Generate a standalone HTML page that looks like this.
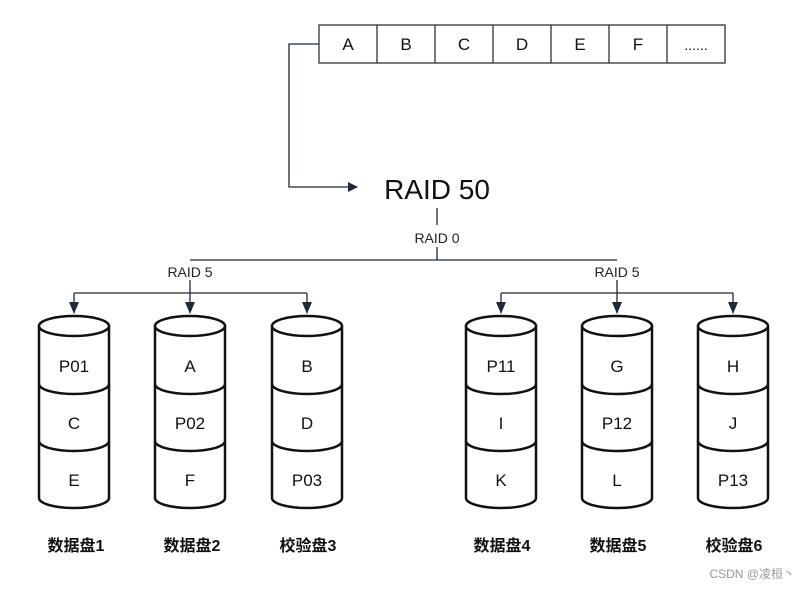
<!DOCTYPE html>
<html><head><meta charset="utf-8"><style>body{margin:0;background:#fff}</style></head><body>
<svg width="808" height="589" xmlns="http://www.w3.org/2000/svg" font-family="Liberation Sans, Noto Sans CJK SC, sans-serif">
<defs><marker id="a" markerWidth="10" markerHeight="10" refX="9" refY="5" orient="auto" markerUnits="userSpaceOnUse"><path d="M0,0 L10,5 L0,10 z" fill="#1f2a36"/></marker>
<marker id="d" markerWidth="10" markerHeight="12" refX="5" refY="11" orient="0" markerUnits="userSpaceOnUse"><path d="M0,0 L10,0 L5,12 z" fill="#1f2a36"/></marker></defs>
<g stroke="#333" stroke-width="1.3" fill="#fff">
<rect x="319" y="25" width="406" height="38"/>
<line x1="377" y1="25" x2="377" y2="63"/><line x1="435" y1="25" x2="435" y2="63"/><line x1="493" y1="25" x2="493" y2="63"/><line x1="551" y1="25" x2="551" y2="63"/><line x1="609" y1="25" x2="609" y2="63"/><line x1="667" y1="25" x2="667" y2="63"/>
</g>
<g font-size="17" text-anchor="middle" fill="#111">
<text x="348" y="50">A</text><text x="406" y="50">B</text><text x="464" y="50">C</text><text x="522" y="50">D</text><text x="580" y="50">E</text><text x="638" y="50">F</text><text x="696" y="50" font-size="14">......</text>
</g>
<g fill="none" stroke="#1f2a36" stroke-width="1.3">
<polyline points="319,44 289,44 289,187 357,187" marker-end="url(#a)"/>
<line x1="437" y1="208" x2="437" y2="225"/>
<line x1="437" y1="247" x2="437" y2="260"/>
<line x1="190" y1="260" x2="617" y2="260"/>
<line x1="190" y1="280" x2="190" y2="293"/><line x1="617" y1="280" x2="617" y2="293"/>
<line x1="74" y1="293" x2="307" y2="293"/><line x1="501" y1="293" x2="733" y2="293"/>
<line x1="74" y1="293" x2="74" y2="313" marker-end="url(#d)"/>
<line x1="190" y1="293" x2="190" y2="313" marker-end="url(#d)"/>
<line x1="307" y1="293" x2="307" y2="313" marker-end="url(#d)"/>
<line x1="501" y1="293" x2="501" y2="313" marker-end="url(#d)"/>
<line x1="617" y1="293" x2="617" y2="313" marker-end="url(#d)"/>
<line x1="733" y1="293" x2="733" y2="313" marker-end="url(#d)"/>
</g>
<text x="437" y="199" font-size="28" text-anchor="middle" fill="#111">RAID 50</text>
<text x="437" y="243" font-size="14" text-anchor="middle" fill="#222">RAID 0</text>
<text x="190" y="277" font-size="14" text-anchor="middle" fill="#222">RAID 5</text>
<text x="617" y="277" font-size="14" text-anchor="middle" fill="#222">RAID 5</text>
<g id="cyls" stroke="#111" stroke-width="2.5" fill="#fff">
</g>
<g font-size="17" text-anchor="middle" fill="#111">
<!-- cylinders -->
<g stroke="#111" stroke-width="2.5" fill="#fff">
<path d="M39,326 L39,498 A35,10 0 0 0 109,498 L109,326"/><ellipse cx="74" cy="326" rx="35" ry="10"/><path d="M39,384 A35,10 0 0 0 109,384 M39,441 A35,10 0 0 0 109,441" fill="none"/>
<path d="M155,326 L155,498 A35,10 0 0 0 225,498 L225,326"/><ellipse cx="190" cy="326" rx="35" ry="10"/><path d="M155,384 A35,10 0 0 0 225,384 M155,441 A35,10 0 0 0 225,441" fill="none"/>
<path d="M272,326 L272,498 A35,10 0 0 0 342,498 L342,326"/><ellipse cx="307" cy="326" rx="35" ry="10"/><path d="M272,384 A35,10 0 0 0 342,384 M272,441 A35,10 0 0 0 342,441" fill="none"/>
<path d="M466,326 L466,498 A35,10 0 0 0 536,498 L536,326"/><ellipse cx="501" cy="326" rx="35" ry="10"/><path d="M466,384 A35,10 0 0 0 536,384 M466,441 A35,10 0 0 0 536,441" fill="none"/>
<path d="M582,326 L582,498 A35,10 0 0 0 652,498 L652,326"/><ellipse cx="617" cy="326" rx="35" ry="10"/><path d="M582,384 A35,10 0 0 0 652,384 M582,441 A35,10 0 0 0 652,441" fill="none"/>
<path d="M698,326 L698,498 A35,10 0 0 0 768,498 L768,326"/><ellipse cx="733" cy="326" rx="35" ry="10"/><path d="M698,384 A35,10 0 0 0 768,384 M698,441 A35,10 0 0 0 768,441" fill="none"/>
</g>
<text x="74" y="372">P01</text><text x="74" y="429">C</text><text x="74" y="486">E</text>
<text x="190" y="372">A</text><text x="190" y="429">P02</text><text x="190" y="486">F</text>
<text x="307" y="372">B</text><text x="307" y="429">D</text><text x="307" y="486">P03</text>
<text x="501" y="372">P11</text><text x="501" y="429">I</text><text x="501" y="486">K</text>
<text x="617" y="372">G</text><text x="617" y="429">P12</text><text x="617" y="486">L</text>
<text x="733" y="372">H</text><text x="733" y="429">J</text><text x="733" y="486">P13</text>
<g font-size="16" font-weight="bold">
<text x="76" y="551">数据盘1</text><text x="192" y="551">数据盘2</text><text x="308" y="551">校验盘3</text>
<text x="502" y="551">数据盘4</text><text x="618" y="551">数据盘5</text><text x="734" y="551">校验盘6</text>
</g>
</g>
<text x="795" y="578" font-size="12" text-anchor="end" fill="#999">CSDN @凌桓丶</text>
</svg>
</body></html>
